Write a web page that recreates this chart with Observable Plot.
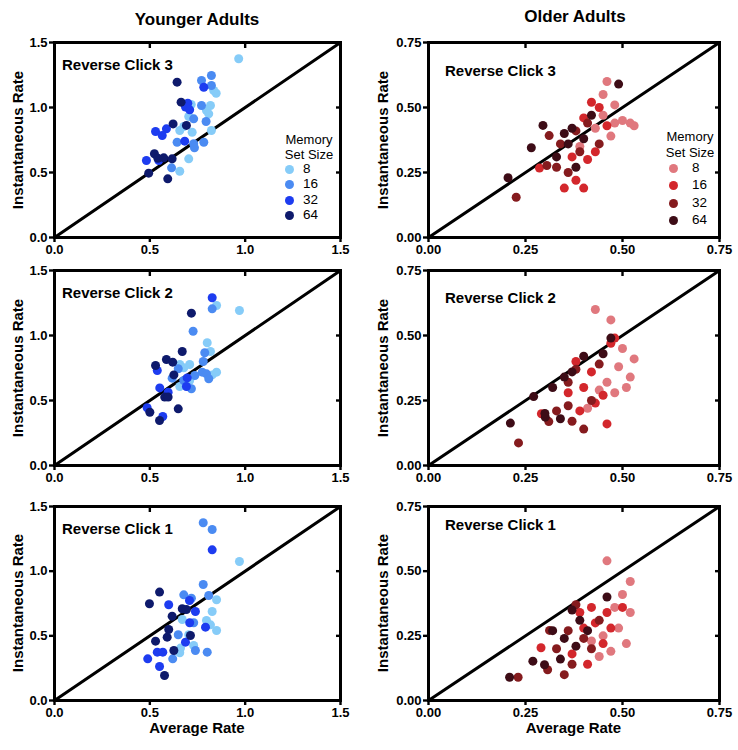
<!DOCTYPE html>
<html><head><meta charset="utf-8">
<script src="https://cdn.jsdelivr.net/npm/d3@7"></script>
<script src="https://cdn.jsdelivr.net/npm/@observablehq/plot@0.6"></script>
<style>
body{margin:0;background:#fff;font-family:"Liberation Sans",Arial,Helvetica,sans-serif;}
#wrap{position:relative;width:738px;height:750px;overflow:hidden;background:#fff}
.p{position:absolute}
.t{position:absolute;font-weight:bold;white-space:nowrap;color:#000;line-height:1}
.dot{position:absolute;width:9px;height:9px;border-radius:50%}
</style></head><body><div id="wrap"></div>
<script>
const sizes = [8, 16, 32, 64];
const youngColors = ["#86ccf8", "#4b8bf2", "#1d3cf0", "#0e1a6c"];
const oldColors = ["#e0787e", "#d3272c", "#851b1e", "#3d0c16"];
const youngTicks = [0, 0.5, 1.0, 1.5];
const oldTicks = [0, 0.25, 0.5, 0.75];
const columnTitles = ["Younger Adults", "Older Adults"];
const panelTitles = ["Reverse Click 3", "Reverse Click 2", "Reverse Click 1"];
const xLabel = "Average Rate";
const yLabel = "Instantaneous Rate";
const legendTitle = ["Memory", "Set Size"];

// [average rate, instantaneous rate, memory set size]
const youngRC3 = [
 [0.966,1.375,8],[0.848,1.110,8],[0.835,1.131,8],[0.717,1.023,8],[0.818,1.015,8],[0.797,0.977,8],[0.809,0.951,8],
 [0.704,0.931,8],[0.678,0.854,8],[0.657,0.823,8],[0.722,0.810,8],[0.823,0.823,8],[0.704,0.605,8],[0.657,0.510,8],
 [0.823,1.246,16],[0.771,1.208,16],[0.823,1.169,16],[0.771,1.015,16],[0.730,0.913,16],[0.795,0.892,16],
 [0.643,0.733,16],[0.730,0.721,16],[0.734,0.690,16],[0.783,0.733,16],[0.614,0.536,16],
 [0.783,1.156,32],[0.699,1.033,32],[0.687,1.003,32],[0.709,0.982,32],[0.587,0.836,32],[0.530,0.815,32],
 [0.565,0.785,32],[0.683,0.741,32],[0.482,0.592,32],[0.547,0.592,32],
 [0.643,1.195,64],[0.664,1.041,64],[0.622,0.874,64],[0.692,0.862,64],[0.524,0.644,64],[0.542,0.610,64],
 [0.573,0.613,64],[0.617,0.605,64],[0.494,0.495,64],[0.594,0.451,64]
];
const youngRC2 = [
 [0.850,1.231,8],[0.970,1.192,8],[0.801,0.944,8],[0.818,0.877,8],[0.657,0.777,8],[0.709,0.777,8],[0.678,0.751,8],
 [0.827,0.697,8],[0.850,0.718,8],[0.709,0.654,8],[0.657,0.608,8],
 [0.827,1.205,16],[0.727,1.033,16],[0.788,0.867,16],[0.649,0.744,16],[0.780,0.800,16],[0.775,0.718,16],
 [0.797,0.705,16],[0.809,0.667,16],[0.736,0.692,16],[0.617,0.672,16],[0.678,0.654,16],[0.718,0.590,16],
 [0.827,1.290,32],[0.539,0.731,32],[0.696,0.674,32],[0.692,0.608,32],[0.552,0.597,32],[0.596,0.564,32],
 [0.486,0.444,32],[0.568,0.377,32],
 [0.718,1.172,64],[0.670,0.877,64],[0.587,0.815,64],[0.620,0.795,64],[0.530,0.769,64],[0.626,0.697,64],
 [0.578,0.526,64],[0.596,0.526,64],[0.649,0.436,64],[0.500,0.410,64],[0.551,0.346,64]
];
const youngRC1 = [
 [0.970,1.075,8],[0.850,0.779,8],[0.827,0.688,8],[0.670,0.626,8],[0.797,0.619,8],[0.818,0.585,8],[0.850,0.541,8],
 [0.704,0.508,8],[0.730,0.425,8],[0.661,0.405,8],[0.657,0.369,8],
 [0.780,1.374,16],[0.827,1.322,16],[0.780,0.897,16],[0.678,0.817,16],[0.718,0.791,16],[0.809,0.812,16],
 [0.730,0.601,16],[0.649,0.508,16],[0.739,0.387,16],[0.801,0.374,16],[0.620,0.322,16],
 [0.827,1.165,32],[0.708,0.773,32],[0.599,0.740,32],[0.739,0.688,32],[0.709,0.601,32],[0.792,0.567,32],
 [0.687,0.451,32],[0.539,0.374,32],[0.568,0.374,32],[0.489,0.322,32],[0.551,0.263,32],
 [0.551,0.838,64],[0.498,0.748,64],[0.670,0.709,64],[0.692,0.704,64],[0.617,0.652,64],[0.599,0.549,64],
 [0.713,0.503,64],[0.591,0.490,64],[0.530,0.459,64],[0.626,0.387,64],[0.577,0.193,64]
];
const olderRC3 = [
 [0.46,0.60,8],[0.45,0.55,8],[0.43,0.42,8],[0.48,0.44,8],[0.50,0.45,8],[0.52,0.44,8],[0.53,0.43,8],
 [0.47,0.39,8],[0.45,0.47,8],[0.39,0.35,8],[0.48,0.51,8],
 [0.286,0.267,16],[0.37,0.31,16],[0.40,0.46,16],[0.41,0.30,16],[0.43,0.33,16],[0.38,0.22,16],[0.40,0.19,16],
 [0.42,0.52,16],[0.46,0.43,16],[0.35,0.19,16],[0.44,0.50,16],
 [0.226,0.155,32],[0.305,0.277,32],[0.311,0.392,32],[0.34,0.36,32],[0.39,0.33,32],[0.36,0.25,32],
 [0.41,0.44,32],[0.44,0.36,32],[0.38,0.41,32],[0.33,0.27,32],
 [0.205,0.230,64],[0.265,0.345,64],[0.295,0.431,64],[0.35,0.40,64],[0.37,0.42,64],[0.40,0.38,64],
 [0.33,0.31,64],[0.38,0.27,64],[0.49,0.59,64],[0.42,0.47,64],[0.36,0.36,64]
];
const olderRC2 = [
 [0.43,0.60,8],[0.47,0.56,8],[0.50,0.45,8],[0.53,0.41,8],[0.52,0.34,8],[0.49,0.38,8],[0.46,0.32,8],
 [0.44,0.29,8],[0.48,0.28,8],[0.41,0.22,8],[0.51,0.30,8],
 [0.291,0.199,16],[0.36,0.28,16],[0.38,0.40,16],[0.40,0.30,16],[0.42,0.36,16],[0.43,0.24,16],[0.45,0.27,16],
 [0.47,0.47,16],[0.48,0.49,16],[0.46,0.16,16],[0.39,0.21,16],
 [0.232,0.087,32],[0.310,0.169,32],[0.33,0.21,32],[0.36,0.32,32],[0.38,0.37,32],[0.36,0.23,32],
 [0.42,0.25,32],[0.40,0.14,32],[0.44,0.39,32],[0.37,0.17,32],
 [0.211,0.163,64],[0.271,0.265,64],[0.301,0.186,64],[0.32,0.30,64],[0.35,0.34,64],[0.37,0.36,64],
 [0.40,0.42,64],[0.45,0.43,64],[0.47,0.49,64],[0.34,0.18,64],[0.30,0.20,64]
];
const olderRC1 = [
 [0.46,0.54,8],[0.52,0.46,8],[0.50,0.41,8],[0.48,0.36,8],[0.52,0.34,8],[0.45,0.25,8],[0.51,0.22,8],
 [0.44,0.17,8],[0.49,0.28,8],[0.47,0.19,8],[0.42,0.23,8],
 [0.290,0.204,16],[0.37,0.18,16],[0.39,0.34,16],[0.41,0.14,16],[0.43,0.30,16],[0.45,0.22,16],[0.46,0.34,16],
 [0.47,0.28,16],[0.50,0.36,16],[0.40,0.28,16],[0.42,0.36,16],
 [0.231,0.090,32],[0.307,0.119,32],[0.312,0.271,32],[0.33,0.20,32],[0.36,0.27,32],[0.38,0.37,32],
 [0.40,0.24,32],[0.42,0.20,32],[0.44,0.31,32],[0.37,0.14,32],[0.35,0.10,32],
 [0.209,0.090,64],[0.269,0.152,64],[0.299,0.138,64],[0.32,0.27,64],[0.35,0.24,64],[0.37,0.35,64],
 [0.39,0.31,64],[0.41,0.27,64],[0.46,0.40,64],[0.34,0.16,64],[0.38,0.21,64]
];

const wrap = document.getElementById("wrap");
const font = '"Liberation Sans", Arial, Helvetica, sans-serif';

// layout (pixels)
const cols = [
  {left: 0, width: 360, mL: 54, mR: 20, ticks: youngTicks, fmt: d3.format(".1f"), colors: youngColors},
  {left: 368, width: 370, mL: 60, mR: 19, ticks: oldTicks, fmt: d3.format(".2f"), colors: oldColors}
];
const rows = [
  {top: 30, height: 240, mT: 12, mB: 33},
  {top: 258, height: 240, mT: 12, mB: 33},
  {top: 494, height: 256, mT: 12, mB: 50}
];
const panelData = [[youngRC3, olderRC3], [youngRC2, olderRC2], [youngRC1, olderRC1]];

function addText(txt, x, y, size, anchor = "middle", weight = "bold") {
  const el = document.createElement("div");
  el.className = "t";
  el.textContent = txt;
  el.style.fontSize = size + "px";
  el.style.fontWeight = weight;
  el.style.fontFamily = font;
  const tx = anchor === "middle" ? "-50%" : anchor === "end" ? "-100%" : "0";
  el.style.left = x + "px";
  el.style.top = y + "px";
  el.style.transform = `translate(${tx},-50%)`;
  wrap.appendChild(el);
  return el;
}

rows.forEach((r, ri) => {
  cols.forEach((c, ci) => {
    const data = panelData[ri][ci].map(([avg, inst, size]) => ({avg, inst, size}));
    const domain = [c.ticks[0], c.ticks[c.ticks.length - 1]];
    const svg = Plot.plot({
      width: c.width, height: r.height,
      marginLeft: c.mL, marginRight: c.mR, marginTop: r.mT, marginBottom: r.mB,
      style: {fontFamily: font, fontSize: "13px", fontWeight: "bold", background: "transparent", overflow: "visible", color: "#000"},
      x: {domain, label: null},
      y: {domain, label: null},
      color: {domain: sizes, range: c.colors},
      marks: [
        Plot.axisY({ticks: c.ticks, tickFormat: c.fmt, tickSize: 5, tickPadding: 2, strokeWidth: 2.4, label: null, fontWeight: "bold", fontSize: 13}),
        Plot.axisX({ticks: c.ticks, tickFormat: c.fmt, tickSize: 5, tickPadding: 2, strokeWidth: 2.4, label: null, fontWeight: "bold", fontSize: 13}),
        Plot.axisX({anchor: "top", ticks: c.ticks, tickSize: -5, tickFormat: () => "", strokeWidth: 2.4, label: null}),
        Plot.axisY({anchor: "right", ticks: c.ticks, tickSize: -5, tickFormat: () => "", strokeWidth: 2.4, label: null}),
        Plot.line(domain.map(v => [v, v]), {stroke: "#000", strokeWidth: 3}),
        Plot.dot(data, {x: "avg", y: "inst", fill: "size", r: 4.5}),
        Plot.frame({stroke: "#000", strokeWidth: 3})
      ]
    });
    svg.classList.add("p");
    svg.style.left = c.left + "px";
    svg.style.top = r.top + "px";
    wrap.appendChild(svg);

    const frameLeft = c.left + c.mL;
    const frameRight = c.left + c.width - c.mR;
    const frameTop = r.top + r.mT;
    const frameBottom = r.top + r.height - r.mB;
    // panel title
    addText(panelTitles[ri], frameLeft + (ci === 0 ? 8 : 17), frameTop + (ci === 0 ? 22 : [28, 27, 18][ri]), 15, "start");
    // y label (rotated)
    const yl = addText(yLabel, ci === 0 ? 17 : 382, (frameTop + frameBottom) / 2, 15, "middle");
    yl.style.transform = "translate(-50%,-50%) rotate(-90deg)";
    // x label on bottom row
    if (ri === rows.length - 1) addText(xLabel, (frameLeft + frameRight) / 2, 727, 15, "middle");
  });
});

// column titles
addText(columnTitles[0], 197, 19, 17, "middle");
addText(columnTitles[1], 575, 16, 17, "middle");

// legends
const legends = [
  {cx: 309, titleY: [139, 154], dotX: 289, numX: 303, rowsY: [169, 184, 200, 215], colors: youngColors},
  {cx: 690, titleY: [136, 152], dotX: 673, numX: 692, rowsY: [168, 185, 203, 220], colors: oldColors}
];
legends.forEach(l => {
  legendTitle.forEach((t, i) => addText(t, l.cx, l.titleY[i], 13, "middle", "normal"));
  sizes.forEach((s, i) => {
    const d = document.createElement("div");
    d.className = "dot";
    d.style.background = l.colors[i];
    d.style.left = (l.dotX - 4.5) + "px";
    d.style.top = (l.rowsY[i] - 4.5) + "px";
    wrap.appendChild(d);
    addText(String(s), l.numX, l.rowsY[i], 13.5, "start", "normal");
  });
});
</script>
</body></html>
